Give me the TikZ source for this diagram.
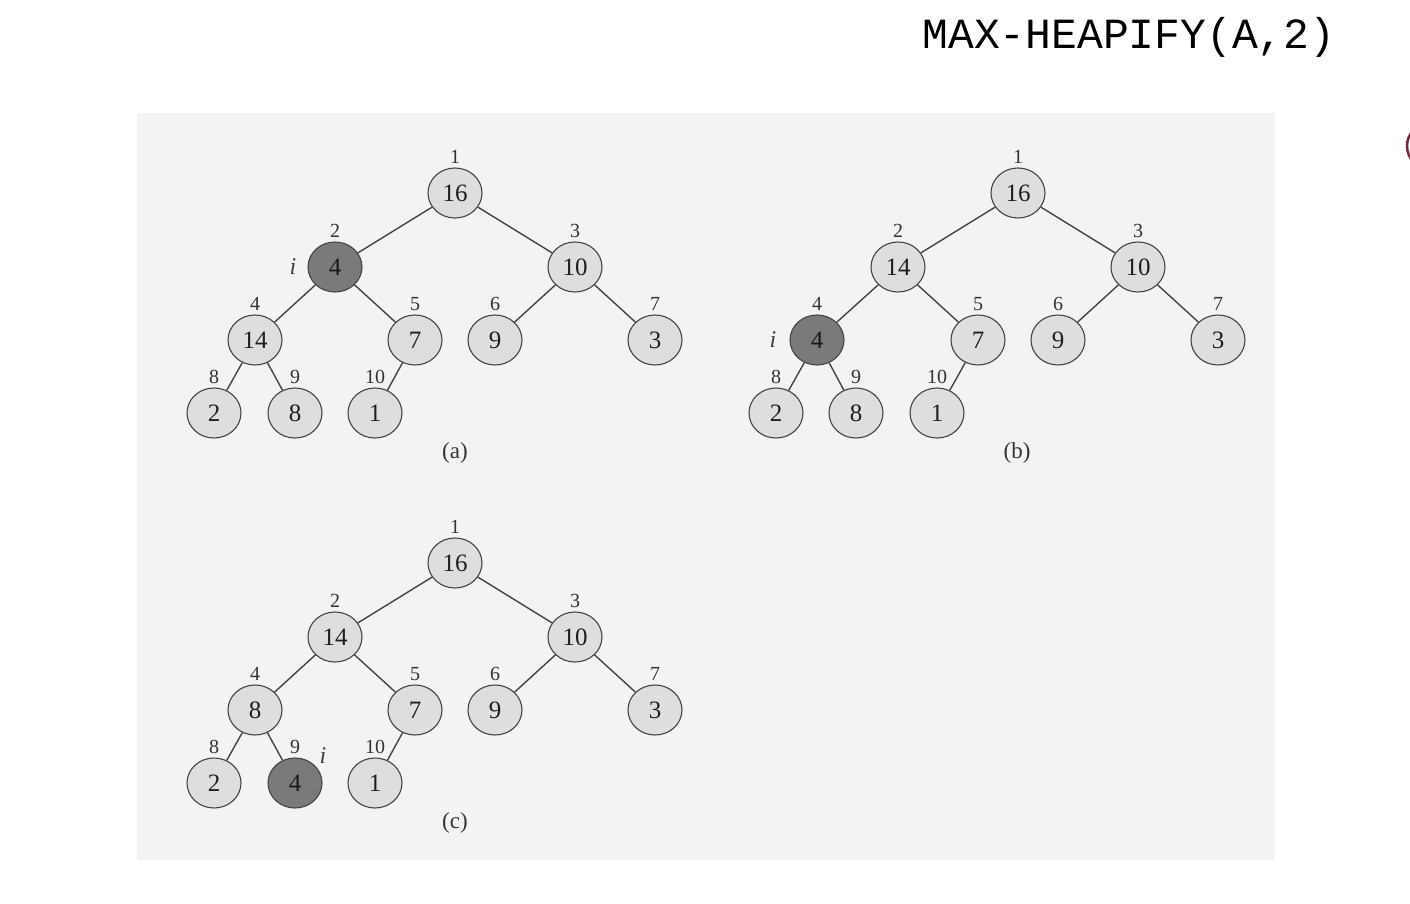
\documentclass[tikz,border=0pt]{standalone}
\usepackage{fontspec}
\setmainfont{Liberation Serif}
\setmonofont{Liberation Mono}
\usetikzlibrary{shapes.geometric}
\definecolor{panel}{HTML}{F3F3F3}
\definecolor{lightnode}{HTML}{DEDEDE}
\definecolor{darknode}{HTML}{7A7A7A}
\definecolor{edgecol}{HTML}{444444}
\definecolor{arcred}{HTML}{6A2A3A}
\tikzset{
  hnode/.style={ellipse, draw=edgecol, line width=1.1pt, fill=lightnode, minimum width=54pt, minimum height=50pt, inner sep=0pt, text=black!88, font=\fontsize{25}{25}\selectfont},
  dnode/.style={hnode, fill=darknode, text=black!90},
  idx/.style={inner sep=0pt, text=black!80, font=\fontsize{20}{20}\selectfont},
  ilab/.style={inner sep=0pt, text=black!75, font=\itshape\fontsize{24}{24}\selectfont},
  caption/.style={inner sep=0pt, text=black!80, font=\fontsize{23}{23}\selectfont},
  tedge/.style={draw=edgecol, line width=1.4pt},
}
\newcommand\hn[6]{\node[#6] (#1) at (#2,#3) {#4}; \node[idx] (#1l) at (#2,#3-36) {#5};}
\begin{document}
\begin{tikzpicture}[x=1pt,y=-1pt]
\useasboundingbox (0,0) rectangle (1410,904);
\fill[white] (0,0) rectangle (1410,904);
\fill[panel] (137,113) rectangle (1275,860);
\node[inner sep=0pt, font=\ttfamily\fontsize{43}{43}\selectfont] (title) at (1129,37) {MAX-HEAPIFY(A,2)};
\begin{scope}
\clip (1300,100) rectangle (1410,200);
\draw[arcred, line width=2.5pt] (1428,146) ellipse [x radius=21, y radius=22];
\end{scope}
% (a)
\hn{a1}{455}{193}{16}{1}{hnode}
\hn{a2}{335}{267}{4}{2}{dnode}
\hn{a3}{575}{267}{10}{3}{hnode}
\hn{a4}{255}{340}{14}{4}{hnode}
\hn{a5}{415}{340}{7}{5}{hnode}
\hn{a6}{495}{340}{9}{6}{hnode}
\hn{a7}{655}{340}{3}{7}{hnode}
\hn{a8}{214}{413}{2}{8}{hnode}
\hn{a9}{295}{413}{8}{9}{hnode}
\hn{a10}{375}{413}{1}{10}{hnode}
\node[ilab] (ai) at (293,267) {i};
\node[caption] (acap) at (455,453) {(a)};
% (b)
\hn{b1}{1018}{193}{16}{1}{hnode}
\hn{b2}{898}{267}{14}{2}{hnode}
\hn{b3}{1138}{267}{10}{3}{hnode}
\hn{b4}{817}{340}{4}{4}{dnode}
\hn{b5}{978}{340}{7}{5}{hnode}
\hn{b6}{1058}{340}{9}{6}{hnode}
\hn{b7}{1218}{340}{3}{7}{hnode}
\hn{b8}{776}{413}{2}{8}{hnode}
\hn{b9}{856}{413}{8}{9}{hnode}
\hn{b10}{937}{413}{1}{10}{hnode}
\node[ilab] (bi) at (773,340) {i};
\node[caption] (bcap) at (1017,453) {(b)};
% (c)
\hn{c1}{455}{563}{16}{1}{hnode}
\hn{c2}{335}{637}{14}{2}{hnode}
\hn{c3}{575}{637}{10}{3}{hnode}
\hn{c4}{255}{710}{8}{4}{hnode}
\hn{c5}{415}{710}{7}{5}{hnode}
\hn{c6}{495}{710}{9}{6}{hnode}
\hn{c7}{655}{710}{3}{7}{hnode}
\hn{c8}{214}{783}{2}{8}{hnode}
\hn{c9}{295}{783}{4}{9}{dnode}
\hn{c10}{375}{783}{1}{10}{hnode}
\node[ilab] (ci) at (323,756) {i};
\node[caption] (ccap) at (455,823) {(c)};
\foreach \p in {a,b,c}{
  \draw[tedge] (\p1) -- (\p2);
  \draw[tedge] (\p1) -- (\p3);
  \draw[tedge] (\p2) -- (\p4);
  \draw[tedge] (\p2) -- (\p5);
  \draw[tedge] (\p3) -- (\p6);
  \draw[tedge] (\p3) -- (\p7);
  \draw[tedge] (\p4) -- (\p8);
  \draw[tedge] (\p4) -- (\p9);
  \draw[tedge] (\p5) -- (\p10);
}
\end{tikzpicture}
\end{document}
